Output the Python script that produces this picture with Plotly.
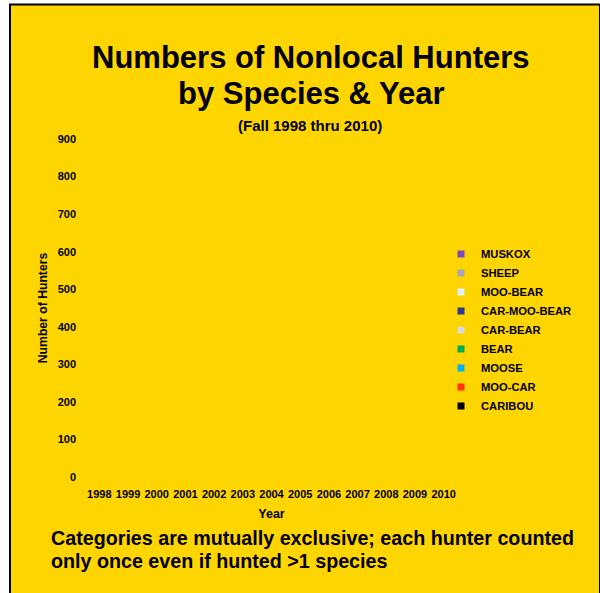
import plotly.graph_objects as go

years = ["1998", "1999", "2000", "2001", "2002", "2003", "2004", "2005",
         "2006", "2007", "2008", "2009", "2010"]

# Stacked series, bottom to top (no bars visible in the reference -> zero)
caribou = [0] * 13
moo_car = [0] * 13
moose = [0] * 13
bear = [0] * 13
car_bear = [0] * 13
car_moo_bear = [0] * 13
moo_bear = [0] * 13
sheep = [0] * 13
muskox = [0] * 13

series_names = ["CARIBOU", "MOO-CAR", "MOOSE", "BEAR", "CAR-BEAR",
                "CAR-MOO-BEAR", "MOO-BEAR", "SHEEP", "MUSKOX"]
series_values = [caribou, moo_car, moose, bear, car_bear,
                 car_moo_bear, moo_bear, sheep, muskox]
series_colors = ["#000000", "#FF3300", "#00B0F0", "#00B050", "#D9D9D9",
                 "#2E3A8C", "#E1F0F8", "#A6A6B4", "#8047BF"]

yticks = [0, 100, 200, 300, 400, 500, 600, 700, 800, 900]

FONT = "Liberation Sans, Arial, sans-serif"
YELLOW = "#FFD500"

fig = go.Figure()
for name, vals, col in zip(series_names, series_values, series_colors):
    fig.add_trace(go.Bar(x=years, y=vals, name=name, showlegend=False,
                         marker=dict(color=col, line=dict(width=0))))
    fig.add_trace(go.Scatter(x=[None], y=[None], mode="markers", name=name,
                             marker=dict(symbol="square", size=7, color=col)))

W, H = 600, 593
L, R, T, B = 85, 142, 139, 116
pw, ph = W - L - R, H - T - B

def px_x(p):
    return (p - L) / pw

def px_y(p):
    return (H - B - p) / ph

fig.add_shape(type="rect", xref="paper", yref="paper",
              x0=px_x(10), x1=px_x(600), y0=px_y(600), y1=px_y(4.5),
              fillcolor=YELLOW, line=dict(color="#000000", width=2), layer="below")

fig.update_layout(
    width=W, height=H,
    margin=dict(l=L, r=R, t=T, b=B, pad=0),
    paper_bgcolor="#FFFFFF",
    plot_bgcolor="rgba(0,0,0,0)",
    barmode="stack",
    font=dict(family=FONT, color="#000000"),
    showlegend=True,
    legend=dict(x=px_x(441), xanchor="left", y=px_y(330), yanchor="middle",
                traceorder="reversed", bgcolor="rgba(0,0,0,0)",
                font=dict(family=FONT, size=11.2, color="#000000", weight="bold"),
                itemwidth=30),
    xaxis=dict(type="category", categoryorder="array", categoryarray=years,
               showgrid=False, showline=False, zeroline=False, ticks="",
               tickfont=dict(family=FONT, size=11, weight="bold"),
               ticklabelstandoff=9,
               title=dict(text="Year", font=dict(family=FONT, size=12.5, weight="bold"),
                          standoff=10)),
    yaxis=dict(range=[0, 900], tickvals=yticks, showgrid=False, showline=False,
               zeroline=False, ticks="",
               tickfont=dict(family=FONT, size=11, weight="bold"),
               ticklabelstandoff=8,
               title=dict(text="Number of Hunters",
                          font=dict(family=FONT, size=12.2, weight="bold"), standoff=7)),
)

fig.add_annotation(xref="paper", yref="paper", x=px_x(311), y=px_y(57),
                   text="<b>Numbers of Nonlocal Hunters</b>", showarrow=False,
                   font=dict(family=FONT, size=31), xanchor="center", yanchor="middle")
fig.add_annotation(xref="paper", yref="paper", x=px_x(311), y=px_y(93),
                   text="<b>by Species &amp; Year</b>", showarrow=False,
                   font=dict(family=FONT, size=31), xanchor="center", yanchor="middle")
fig.add_annotation(xref="paper", yref="paper", x=px_x(310), y=px_y(126),
                   text="<b>(Fall 1998 thru 2010)</b>", showarrow=False,
                   font=dict(family=FONT, size=15), xanchor="center", yanchor="middle")
fig.add_annotation(xref="paper", yref="paper", x=px_x(49), y=px_y(538),
                   text="<b>Categories are mutually exclusive; each hunter counted</b>",
                   showarrow=False, align="left",
                   font=dict(family=FONT, size=19.7), xanchor="left", yanchor="middle")
fig.add_annotation(xref="paper", yref="paper", x=px_x(49), y=px_y(561),
                   text="<b>only once even if hunted &gt;1 species</b>",
                   showarrow=False, align="left",
                   font=dict(family=FONT, size=19.7), xanchor="left", yanchor="middle")

fig.write_html("out.html", config={"displayModeBar": False},
               post_script="document.body.style.margin='0';")
